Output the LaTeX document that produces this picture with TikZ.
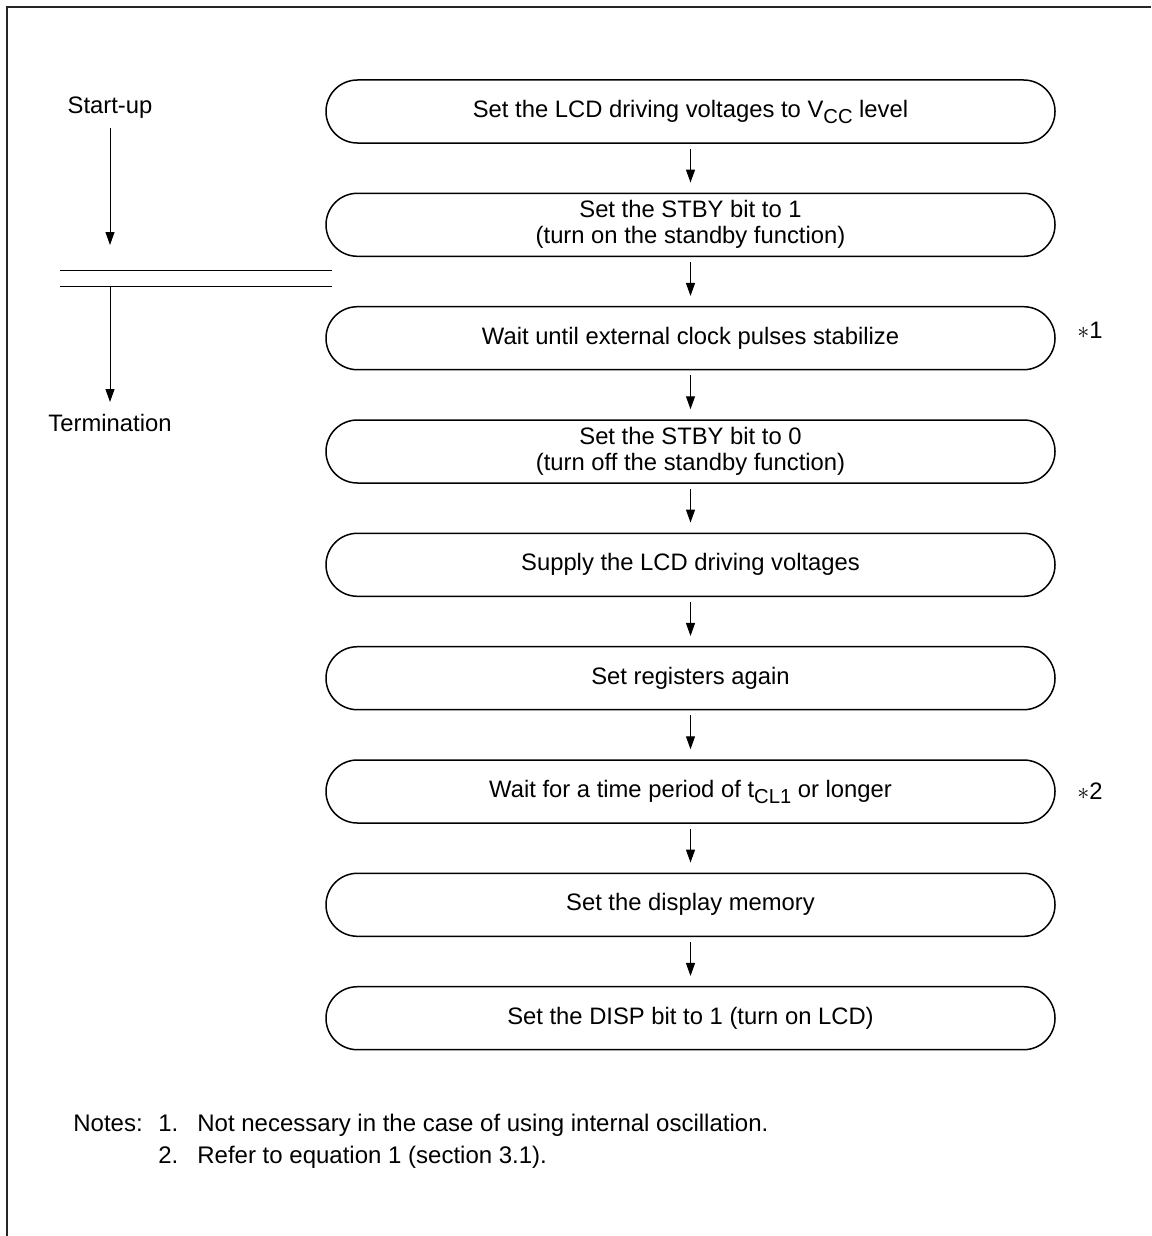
\documentclass[tikz,border=0pt]{standalone}
\usepackage{fontspec}
\setmainfont{Liberation Sans}
\usetikzlibrary{arrows.meta}
% lowered, slightly smaller subscript in the running font
\newcommand{\lsub}[1]{\raisebox{-3pt}{\fontsize{10.1}{11}\selectfont #1}}
\begin{document}
\begin{tikzpicture}[x=0.5pt,y=-0.5pt,
  txt/.style={font=\fontsize{11.9}{13}\selectfont, inner sep=0pt},
  notetxt/.style={font=\fontsize{12}{13}\selectfont, inner sep=0pt},
  stepbox/.style={draw, line width=0.75pt, rounded corners=15.7pt,
    minimum width=364.5pt, minimum height=31.5pt, align=center,
    font=\fontsize{11.9}{13}\selectfont},
  arr/.style={-{Triangle[length=6.5pt,width=4.5pt]}, line width=0.5pt},
  flow/.style={arr, shorten <=2.5pt, shorten >=5pt},
  frame/.style={line width=0.8pt, draw=black!85}]
\useasboundingbox (0,0) rectangle (1151,1236);

% page frame (top and left edges)
\draw[frame] (7,1236) -- (7,7) -- (1151,7);

% procedure steps
\node[stepbox] (b1) at (690.5,111.5) {Set the LCD driving voltages to V\lsub{CC} level};
\node[stepbox] (b2) at (690.5,224.8) {Set the STBY bit to 1\\(turn on the standby function)};
\node[stepbox] (b3) at (690.5,338.2) {Wait until external clock pulses stabilize};
\node[stepbox] (b4) at (690.5,451.5) {Set the STBY bit to 0\\(turn off the standby function)};
\node[stepbox] (b5) at (690.5,564.8) {Supply the LCD driving voltages};
\node[stepbox] (b6) at (690.5,678.2) {Set registers again};
\node[stepbox] (b7) at (690.5,791.5) {Wait for a time period of t\lsub{CL1} or longer};
\node[stepbox] (b8) at (690.5,904.8) {Set the display memory};
\node[stepbox] (b9) at (690.5,1018.2) {Set the DISP bit to 1 (turn on LCD)};

\foreach \a/\b in {b1/b2,b2/b3,b3/b4,b4/b5,b5/b6,b6/b7,b7/b8,b8/b9}
  \draw[flow] (\a) -- (\b);

% footnote marks
\node[txt, anchor=base west] (m1) at (1077,338.3) {$\ast$1};
\node[txt, anchor=base west] (m2) at (1077,799) {$\ast$2};

% start-up / termination sequence
\node[txt, anchor=base, inner sep=2pt] (su) at (110,113) {Start-up};
\coordinate (sa) at (110,245);
\draw[arr, shorten <=3pt] (su) -- (sa);
\coordinate (l1a) at (60,270.5);
\coordinate (l1b) at (332,270.5);
\coordinate (l2a) at (60,286);
\coordinate (l2b) at (332,286);
\draw[line width=0.5pt] (l1a) -- (l1b);
\draw[line width=0.5pt] (l2a) -- (l2b);
\coordinate (tb) at (110,286);
\coordinate (ta) at (110,402);
\draw[arr] (tb) -- (ta);
\node[txt, anchor=base] (te) at (110,431.7) {Termination};

% notes
\node[notetxt, anchor=base west] (nh) at (73,1131.7) {Notes:};
\node[notetxt, anchor=base west] (n1) at (158,1131.7) {1.};
\node[notetxt, anchor=base west] (n1t) at (197,1131.7) {Not necessary in the case of using internal oscillation.};
\node[notetxt, anchor=base west] (n2) at (158,1163) {2.};
\node[notetxt, anchor=base west] (n2t) at (197,1163) {Refer to equation 1 (section 3.1).};
\end{tikzpicture}
\end{document}
